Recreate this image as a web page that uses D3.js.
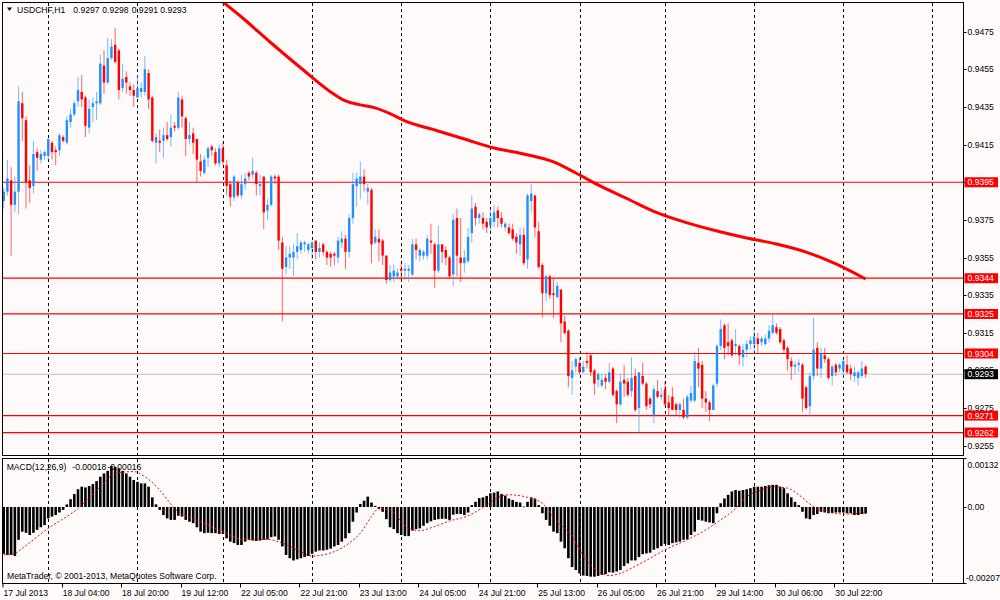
<!DOCTYPE html>
<html>
<head>
<meta charset="utf-8">
<script src="https://cdn.jsdelivr.net/npm/d3@7/dist/d3.min.js"></script>
<style>
  body { margin: 0; background: #fffafa; }
  svg { display: block; font-family: "Liberation Sans", Arial, sans-serif; font-size: 8.6px; }
</style>
</head>
<body>
<div class="chart"></div>
<script>
// USDCHF H1, bars from 17 Jul 2013 12:00 to 31 Jul 2013 06:00
const titleParts = ["USDCHF,H1", "0.9297", "0.9298", "0.9291", "0.9293"];
const macdParts = ["MACD(12,26,9)", "-0.00018", "-0.00016"];
const copyright = "MetaTrader, \u00a9 2001-2013, MetaQuotes Software Corp.";

const open = [
0.9385,0.9390,0.9396,0.9383,0.9390,0.9437,0.9428,0.9396,0.9393,0.9411,
0.9407,0.9409,0.9409,0.9416,0.9412,0.9412,0.9419,0.9416,0.9427,0.9431,
0.9438,0.9443,0.9440,0.9424,0.9435,0.9437,0.9437,0.9457,0.9448,0.9461,
0.9468,0.9465,0.9445,0.9451,0.9446,0.9444,0.9440,0.9443,0.9443,0.9453,
0.9440,0.9416,0.9417,0.9417,0.9420,0.9419,0.9425,0.9424,0.9439,0.9429,
0.9418,0.9421,0.9418,0.9406,0.9400,0.9408,0.9414,0.9411,0.9405,0.9413,
0.9404,0.9394,0.9387,0.9395,0.9388,0.9394,0.9400,0.9399,0.9400,0.9393,
0.9398,0.9380,0.9383,0.9398,0.9398,0.9363,0.9350,0.9355,0.9355,0.9358,
0.9359,0.9362,0.9359,0.9360,0.9364,0.9358,0.9362,0.9358,0.9357,0.9357,
0.9355,0.9363,0.9365,0.9358,0.9376,0.9393,0.9394,0.9398,0.9390,0.9391,
0.9363,0.9365,0.9364,0.9356,0.9343,0.9345,0.9345,0.9349,0.9348,0.9348,
0.9346,0.9362,0.9356,0.9356,0.9356,0.9364,0.9362,0.9348,0.9362,0.9359,
0.9355,0.9346,0.9376,0.9355,0.9352,0.9353,0.9368,0.9382,0.9376,0.9376,
0.9374,0.9372,0.9374,0.9380,0.9376,0.9371,0.9371,0.9370,0.9366,0.9362,
0.9367,0.9354,0.9385,0.9388,0.9369,0.9351,0.9336,0.9345,0.9336,0.9334,
0.9338,0.9321,0.9316,0.9291,0.9297,0.9299,0.9294,0.9300,0.9303,0.9295,
0.9290,0.9287,0.9291,0.9289,0.9296,0.9284,0.9277,0.9290,0.9289,0.9284,
0.9292,0.9275,0.9292,0.9288,0.9280,0.9271,0.9284,0.9281,0.9285,0.9278,
0.9281,0.9277,0.9274,0.9274,0.9270,0.9279,0.9279,0.9299,0.9298,0.9280,
0.9278,0.9274,0.9288,0.9308,0.9319,0.9310,0.9311,0.9308,0.9308,0.9302,
0.9306,0.9309,0.9309,0.9312,0.9310,0.9309,0.9312,0.9315,0.9318,0.9317,
0.9311,0.9307,0.9300,0.9297,0.9298,0.9298,0.9286,0.9276,0.9292,0.9307,
0.9296,0.9303,0.9301,0.9292,0.9298,0.9296,0.9295,0.9298,0.9296,0.9292,
0.9291,0.9292,0.9297];

const high = [
0.9392,0.9407,0.9403,0.9398,0.9446,0.9443,0.9430,0.9404,0.9417,0.9413,
0.9412,0.9412,0.9418,0.9417,0.9414,0.9421,0.9420,0.9430,0.9434,0.9438,
0.9451,0.9452,0.9441,0.9439,0.9440,0.9443,0.9463,0.9465,0.9472,0.9471,
0.9477,0.9466,0.9458,0.9454,0.9448,0.9447,0.9452,0.9448,0.9462,0.9455,
0.9441,0.9421,0.9423,0.9424,0.9427,0.9431,0.9427,0.9443,0.9441,0.9430,
0.9427,0.9424,0.9418,0.9410,0.9409,0.9414,0.9415,0.9413,0.9415,0.9416,
0.9407,0.9396,0.9399,0.9396,0.9399,0.9400,0.9401,0.9408,0.9401,0.9399,
0.9398,0.9386,0.9399,0.9399,0.9399,0.9366,0.9361,0.9361,0.9362,0.9368,
0.9364,0.9364,0.9363,0.9364,0.9364,0.9363,0.9363,0.9359,0.9358,0.9358,
0.9366,0.9369,0.9367,0.9378,0.9400,0.9400,0.9406,0.9402,0.9394,0.9392,
0.9370,0.9370,0.9365,0.9356,0.9351,0.9351,0.9349,0.9352,0.9352,0.9351,
0.9365,0.9365,0.9360,0.9359,0.9367,0.9373,0.9363,0.9372,0.9362,0.9361,
0.9356,0.9378,0.9381,0.9376,0.9359,0.9371,0.9388,0.9384,0.9379,0.9379,
0.9376,0.9381,0.9383,0.9382,0.9379,0.9374,0.9373,0.9373,0.9368,0.9371,
0.9371,0.9389,0.9394,0.9388,0.9374,0.9352,0.9346,0.9346,0.9344,0.9342,
0.9338,0.9324,0.9317,0.9300,0.9302,0.9302,0.9300,0.9305,0.9304,0.9296,
0.9294,0.9293,0.9293,0.9299,0.9297,0.9285,0.9293,0.9298,0.9291,0.9302,
0.9296,0.9294,0.9299,0.9289,0.9281,0.9287,0.9290,0.9286,0.9289,0.9282,
0.9286,0.9278,0.9278,0.9280,0.9282,0.9287,0.9305,0.9307,0.9300,0.9284,
0.9279,0.9288,0.9309,0.9322,0.9320,0.9320,0.9312,0.9317,0.9309,0.9309,
0.9311,0.9313,0.9318,0.9315,0.9313,0.9314,0.9319,0.9325,0.9320,0.9318,
0.9312,0.9308,0.9302,0.9300,0.9301,0.9299,0.9287,0.9294,0.9323,0.9310,
0.9307,0.9307,0.9302,0.9298,0.9299,0.9299,0.9301,0.9303,0.9298,0.9297,
0.9295,0.9300,0.9298];

const low = [
0.9381,0.9388,0.9356,0.9379,0.9378,0.9417,0.9381,0.9384,0.9389,0.9401,
0.9405,0.9407,0.9407,0.9407,0.9404,0.9409,0.9416,0.9415,0.9424,0.9430,
0.9435,0.9435,0.9419,0.9421,0.9427,0.9428,0.9436,0.9442,0.9447,0.9460,
0.9458,0.9439,0.9443,0.9442,0.9441,0.9435,0.9440,0.9440,0.9441,0.9434,
0.9416,0.9405,0.9411,0.9408,0.9417,0.9414,0.9422,0.9423,0.9424,0.9409,
0.9415,0.9410,0.9395,0.9398,0.9399,0.9403,0.9409,0.9404,0.9403,0.9404,
0.9388,0.9382,0.9385,0.9387,0.9386,0.9391,0.9396,0.9397,0.9388,0.9388,
0.9370,0.9375,0.9382,0.9394,0.9359,0.9321,0.9346,0.9349,0.9345,0.9354,
0.9357,0.9358,0.9357,0.9354,0.9354,0.9355,0.9356,0.9351,0.9350,0.9351,
0.9352,0.9360,0.9349,0.9355,0.9373,0.9382,0.9386,0.9390,0.9383,0.9352,
0.9362,0.9353,0.9351,0.9341,0.9342,0.9342,0.9344,0.9343,0.9343,0.9342,
0.9345,0.9354,0.9353,0.9354,0.9354,0.9357,0.9339,0.9347,0.9352,0.9351,
0.9344,0.9340,0.9345,0.9342,0.9347,0.9352,0.9363,0.9372,0.9373,0.9370,
0.9368,0.9369,0.9371,0.9371,0.9371,0.9369,0.9367,0.9364,0.9357,0.9356,
0.9351,0.9349,0.9379,0.9366,0.9349,0.9323,0.9332,0.9333,0.9323,0.9333,
0.9310,0.9314,0.9286,0.9282,0.9294,0.9293,0.9294,0.9296,0.9292,0.9282,
0.9286,0.9286,0.9285,0.9288,0.9281,0.9267,0.9276,0.9281,0.9281,0.9281,
0.9273,0.9262,0.9287,0.9274,0.9275,0.9267,0.9280,0.9279,0.9276,0.9271,
0.9274,0.9271,0.9270,0.9269,0.9269,0.9278,0.9278,0.9286,0.9275,0.9273,
0.9268,0.9274,0.9286,0.9306,0.9301,0.9303,0.9302,0.9303,0.9298,0.9297,
0.9302,0.9306,0.9304,0.9304,0.9308,0.9308,0.9310,0.9314,0.9314,0.9309,
0.9304,0.9295,0.9290,0.9293,0.9294,0.9273,0.9274,0.9271,0.9290,0.9292,
0.9291,0.9299,0.9290,0.9287,0.9292,0.9294,0.9291,0.9293,0.9290,0.9289,
0.9287,0.9291,0.9291];

const close = [
0.9390,0.9397,0.9383,0.9390,0.9438,0.9429,0.9395,0.9392,0.9410,0.9408,
0.9410,0.9411,0.9418,0.9411,0.9411,0.9420,0.9417,0.9428,0.9431,0.9437,
0.9444,0.9439,0.9425,0.9434,0.9437,0.9438,0.9458,0.9448,0.9461,0.9467,
0.9459,0.9444,0.9450,0.9448,0.9444,0.9441,0.9445,0.9445,0.9455,0.9439,
0.9417,0.9419,0.9416,0.9420,0.9418,0.9424,0.9424,0.9440,0.9430,0.9418,
0.9420,0.9416,0.9407,0.9401,0.9407,0.9413,0.9412,0.9405,0.9413,0.9406,
0.9393,0.9387,0.9398,0.9388,0.9394,0.9397,0.9398,0.9401,0.9394,0.9394,
0.9379,0.9383,0.9398,0.9397,0.9364,0.9349,0.9355,0.9357,0.9358,0.9361,
0.9363,0.9363,0.9362,0.9363,0.9358,0.9360,0.9358,0.9355,0.9355,0.9356,
0.9364,0.9365,0.9358,0.9376,0.9394,0.9397,0.9398,0.9394,0.9392,0.9362,
0.9366,0.9363,0.9356,0.9343,0.9347,0.9348,0.9347,0.9348,0.9349,0.9349,
0.9362,0.9359,0.9359,0.9358,0.9365,0.9363,0.9348,0.9362,0.9358,0.9355,
0.9345,0.9375,0.9356,0.9352,0.9355,0.9366,0.9381,0.9376,0.9378,0.9373,
0.9371,0.9376,0.9379,0.9376,0.9373,0.9373,0.9368,0.9365,0.9363,0.9367,
0.9352,0.9388,0.9389,0.9371,0.9350,0.9336,0.9345,0.9335,0.9335,0.9340,
0.9320,0.9315,0.9292,0.9295,0.9301,0.9294,0.9297,0.9299,0.9294,0.9288,
0.9293,0.9290,0.9289,0.9294,0.9282,0.9277,0.9289,0.9288,0.9282,0.9291,
0.9274,0.9294,0.9288,0.9276,0.9277,0.9285,0.9281,0.9282,0.9277,0.9275,
0.9274,0.9274,0.9277,0.9270,0.9281,0.9283,0.9300,0.9296,0.9280,0.9278,
0.9274,0.9287,0.9308,0.9317,0.9307,0.9308,0.9303,0.9309,0.9303,0.9306,
0.9309,0.9311,0.9313,0.9309,0.9312,0.9312,0.9316,0.9319,0.9315,0.9310,
0.9306,0.9301,0.9297,0.9298,0.9299,0.9280,0.9275,0.9292,0.9306,0.9296,
0.9304,0.9301,0.9291,0.9297,0.9294,0.9298,0.9300,0.9294,0.9293,0.9294,
0.9294,0.9296,0.9293];

// moving average (thick red line), read at some bars
const maBar = [58,64,72,80,88,92,96,100,104,108,116,124,132,140,148,154,160,168,176,184,192,200,208,216,224,232];
const maVal = [0.94924,0.94828,0.94690,0.94557,0.94430,0.94382,0.94361,0.94345,0.94314,0.94276,0.94228,0.94180,0.94132,0.94100,0.94058,0.93999,0.93936,0.93861,0.93787,0.93734,0.93691,0.93654,0.93622,0.93579,0.93516,0.93436];

// MACD main (histogram), one per bar
const macd = [
-0.00127,-0.00130,-0.00130,-0.00133,-0.00089,-0.00067,-0.00070,-0.00076,-0.00070,-0.00062,
-0.00055,-0.00049,-0.00031,-0.00026,-0.00022,-0.00015,-0.00008,0.00007,0.00021,0.00035,
0.00048,0.00055,0.00053,0.00057,0.00062,0.00070,0.00082,0.00091,0.00098,0.00111,
0.00109,0.00105,0.00098,0.00091,0.00082,0.00073,0.00068,0.00064,0.00064,0.00055,
0.00026,0.00007,-0.00008,-0.00022,-0.00031,-0.00035,-0.00035,-0.00024,-0.00026,-0.00035,
-0.00040,-0.00044,-0.00055,-0.00067,-0.00071,-0.00070,-0.00071,-0.00071,-0.00073,-0.00073,
-0.00085,-0.00094,-0.00098,-0.00103,-0.00103,-0.00094,-0.00089,-0.00091,-0.00092,-0.00091,
-0.00089,-0.00088,-0.00082,-0.00080,-0.00089,-0.00107,-0.00130,-0.00139,-0.00145,-0.00142,
-0.00139,-0.00136,-0.00133,-0.00127,-0.00121,-0.00118,-0.00118,-0.00116,-0.00113,-0.00107,
-0.00103,-0.00094,-0.00085,-0.00071,-0.00040,-0.00015,0.00008,0.00017,0.00028,0.00012,
0.00003,-0.00006,-0.00013,-0.00033,-0.00055,-0.00060,-0.00071,-0.00076,-0.00079,-0.00079,
-0.00064,-0.00060,-0.00058,-0.00051,-0.00044,-0.00039,-0.00035,-0.00033,-0.00032,-0.00032,
-0.00035,-0.00021,-0.00019,-0.00019,-0.00022,-0.00015,0.00005,0.00014,0.00024,0.00026,
0.00030,0.00037,0.00039,0.00042,0.00035,0.00031,0.00023,0.00019,0.00014,0.00012,
0.00001,0.00014,0.00026,0.00023,0.00005,-0.00017,-0.00035,-0.00051,-0.00067,-0.00071,
-0.00094,-0.00112,-0.00139,-0.00163,-0.00171,-0.00180,-0.00186,-0.00187,-0.00189,-0.00189,
-0.00187,-0.00184,-0.00182,-0.00177,-0.00178,-0.00175,-0.00171,-0.00160,-0.00153,-0.00145,
-0.00145,-0.00136,-0.00128,-0.00126,-0.00124,-0.00116,-0.00112,-0.00106,-0.00100,-0.00103,
-0.00098,-0.00096,-0.00094,-0.00089,-0.00088,-0.00076,-0.00067,-0.00035,-0.00037,-0.00040,
-0.00042,-0.00044,-0.00017,0.00010,0.00023,0.00033,0.00042,0.00046,0.00044,0.00046,
0.00048,0.00051,0.00055,0.00055,0.00055,0.00057,0.00059,0.00060,0.00060,0.00055,
0.00051,0.00037,0.00026,0.00014,0.00005,-0.00013,-0.00031,-0.00033,-0.00022,-0.00019,
-0.00013,-0.00015,-0.00017,-0.00017,-0.00015,-0.00015,-0.00015,-0.00017,-0.00017,-0.00022,
-0.00022,-0.00019,-0.00018];

// MACD signal (red dotted), read at some bars
const sigBar = [0,3,5,12,20,26,30,35,38,42,46,53,59,65,71,75,80,83,89,93,96,99,101,104,109,112,116,120,125,130,133,136,141,145,149,153,155,158,161,163,166,169,174,178,184,189,193,197,200,204,207,211,214,218,222,226,232];
const sigVal = [-0.00130,-0.00126,-0.00112,-0.00058,-0.00004,0.00055,0.00091,0.00096,0.00082,0.00046,-0.00004,-0.00040,-0.00067,-0.00089,-0.00088,-0.00098,-0.00121,-0.00133,-0.00121,-0.00098,-0.00071,-0.00026,-0.00004,-0.00010,-0.00058,-0.00064,-0.00053,-0.00038,-0.00024,0.00005,0.00026,0.00033,0.00026,0.00010,-0.00040,-0.00080,-0.00116,-0.00157,-0.00180,-0.00186,-0.00180,-0.00166,-0.00139,-0.00116,-0.00089,-0.00062,-0.00035,-0.00004,0.00028,0.00046,0.00055,0.00051,0.00033,0.00001,-0.00013,-0.00019,-0.00016];

// horizontal levels
const levels = [0.9395, 0.9344, 0.9325, 0.9304, 0.9271, 0.9262];
const bid = 0.9293;
const priceTicks = [0.9475, 0.9455, 0.9435, 0.9415, 0.9395, 0.9375, 0.9355, 0.9335, 0.9315, 0.9295, 0.9275, 0.9255];
const macdTicks = [0.00132, 0, -0.00207];
const macdTickLabels = ["0.00132", "0.00", "-0.00207"];

// day separators and time axis
const dayStarts = [12, 36, 59, 83, 107, 131, 155, 178, 202, 226, 250];
const timeBars = [0, 16, 32, 48, 64, 80, 96, 112, 128, 144, 160, 176, 192, 208, 224];
const timeLabels = ["17 Jul 2013", "18 Jul 04:00", "18 Jul 20:00", "19 Jul 12:00", "22 Jul 05:00", "22 Jul 21:00",
  "23 Jul 13:00", "24 Jul 05:00", "24 Jul 21:00", "25 Jul 13:00", "26 Jul 05:00", "26 Jul 21:00",
  "29 Jul 14:00", "30 Jul 06:00", "30 Jul 22:00"];

const W = 1000, H = 600;
const L = 2.5, R = 963.5;
const mainTop = 2.5, mainBot = 455.5, subTop = 458.5, subBot = 583.5;

const svg = d3.select('.chart').append('svg')
  .attr('width', W).attr('height', H);

svg.append('rect').attr('width', W).attr('height', H).attr('fill', '#fffafa');

const x = d3.scaleLinear().domain([0, 258.3]).range([3.7, 963.3]);
const y = d3.scaleLinear().domain([0.9255, 0.9475]).range([445.7, 31.7]);
const ym = d3.scaleLinear().domain([-0.00207, 0.00132]).range([583.3, 458.3]);

const defs = svg.append('defs');
defs.append('clipPath').attr('id', 'clipMain').append('rect')
  .attr('x', L).attr('y', mainTop).attr('width', R - L).attr('height', mainBot - mainTop);
defs.append('clipPath').attr('id', 'clipSub').append('rect')
  .attr('x', L).attr('y', subTop).attr('width', R - L).attr('height', subBot - subTop);

// period separators
const sep = svg.append('g');
[[mainTop, mainBot], [subTop, subBot]].forEach(p => {
  sep.selectAll(null)
    .data(dayStarts)
    .enter()
    .append('line')
    .attr('x1', d => Math.round(x(d)) + 0.5)
    .attr('x2', d => Math.round(x(d)) + 0.5)
    .attr('y1', p[0]).attr('y2', p[1])
    .attr('stroke', '#000')
    .attr('stroke-dasharray', '3,3')
    .attr('shape-rendering', 'crispEdges');
});

// main panel
const gm = svg.append('g').attr('clip-path', 'url(#clipMain)');

gm.append('line')
  .attr('x1', L).attr('x2', R)
  .attr('y1', y(bid)).attr('y2', y(bid))
  .attr('stroke', '#c0c0c0');

gm.selectAll('line.level')
  .data(levels)
  .enter()
  .append('line')
  .attr('class', 'level')
  .attr('x1', L).attr('x2', R)
  .attr('y1', d => y(d)).attr('y2', d => y(d))
  .attr('stroke', '#ff0000')
  .attr('stroke-width', 1.2);

const idx = d3.range(close.length);
const up = i => close[i] >= open[i];

gm.selectAll('line.wick')
  .data(idx)
  .enter()
  .append('line')
  .attr('class', 'wick')
  .attr('x1', i => x(i)).attr('x2', i => x(i))
  .attr('y1', i => y(high[i])).attr('y2', i => y(low[i]))
  .attr('stroke', i => up(i) ? '#1e90ff' : '#ff0000')
  .attr('stroke-opacity', 0.6)
  .attr('stroke-width', 1);

gm.selectAll('rect.body')
  .data(idx)
  .enter()
  .append('rect')
  .attr('class', 'body')
  .attr('x', i => x(i) - 1.2)
  .attr('width', 2.4)
  .attr('y', i => y(Math.max(open[i], close[i])))
  .attr('height', i => Math.max(1, Math.abs(y(open[i]) - y(close[i]))))
  .attr('fill', i => up(i) ? '#1e90ff' : '#ff0000');

const maLine = d3.line()
  .x((d, k) => x(maBar[k]))
  .y(d => y(d))
  .curve(d3.curveMonotoneX);

gm.append('path')
  .attr('d', maLine(maVal))
  .attr('fill', 'none')
  .attr('stroke', '#ff0000')
  .attr('stroke-width', 3)
  .attr('stroke-linejoin', 'round');

// MACD panel
const gs = svg.append('g').attr('clip-path', 'url(#clipSub)');

gs.selectAll('rect.hist')
  .data(macd)
  .enter()
  .append('rect')
  .attr('class', 'hist')
  .attr('x', (d, i) => x(i) - 1.3)
  .attr('width', 2.6)
  .attr('y', d => Math.min(ym(0), ym(d)))
  .attr('height', d => Math.max(0.6, Math.abs(ym(d) - ym(0))))
  .attr('fill', '#000');

const sigLine = d3.line()
  .x((d, k) => x(sigBar[k]))
  .y(d => ym(d))
  .curve(d3.curveMonotoneX);

gs.append('path')
  .attr('d', sigLine(sigVal))
  .attr('fill', 'none')
  .attr('stroke', '#ff0000')
  .attr('stroke-width', 1)
  .attr('stroke-dasharray', '2,2');

// frames
[[mainTop, mainBot], [subTop, subBot]].forEach(p => {
  svg.append('rect')
    .attr('x', L).attr('y', p[0])
    .attr('width', R - L).attr('height', p[1] - p[0])
    .attr('fill', 'none')
    .attr('stroke', '#000')
    .attr('shape-rendering', 'crispEdges');
});

// right price axis
const ax = svg.append('g');
ax.selectAll('line.pt')
  .data(priceTicks)
  .enter()
  .append('line')
  .attr('x1', R).attr('x2', R + 3)
  .attr('y1', d => Math.round(y(d)) + 0.5).attr('y2', d => Math.round(y(d)) + 0.5)
  .attr('stroke', '#000');
ax.selectAll('text.pt')
  .data(priceTicks)
  .enter()
  .append('text')
  .attr('x', 967.5)
  .attr('y', d => y(d))
  .attr('dy', '0.35em')
  .attr('fill', '#000')
  .text(d => d.toFixed(4));

// level labels
const tags = levels.map(v => ({ v: v, bg: '#ff0000' })).concat([{ v: bid, bg: '#000' }]);
ax.selectAll('rect.tag')
  .data(tags)
  .enter()
  .append('rect')
  .attr('x', 964.5).attr('width', 33.5)
  .attr('y', d => y(d.v) - 5).attr('height', 10)
  .attr('fill', d => d.bg);
ax.selectAll('text.tag')
  .data(tags)
  .enter()
  .append('text')
  .attr('x', 967.5)
  .attr('y', d => y(d.v))
  .attr('dy', '0.35em')
  .attr('fill', '#fff')
  .text(d => d.v.toFixed(4));

// MACD axis
ax.selectAll('line.mt')
  .data(macdTicks)
  .enter()
  .append('line')
  .attr('x1', R).attr('x2', R + 3)
  .attr('y1', d => Math.round(ym(d)) + 0.5).attr('y2', d => Math.round(ym(d)) + 0.5)
  .attr('stroke', '#000');
ax.selectAll('text.mt')
  .data(macdTicks)
  .enter()
  .append('text')
  .attr('x', (d, i) => i === 2 ? 966 : 967.5)
  .attr('y', (d, i) => i === 0 ? 465 : (i === 2 ? 577.5 : ym(d)))
  .attr('dy', '0.35em')
  .attr('fill', '#000')
  .text((d, i) => macdTickLabels[i]);

// time axis
ax.selectAll('line.tt')
  .data(timeBars)
  .enter()
  .append('line')
  .attr('x1', (d, i) => i === 0 ? 3 : Math.round(x(d) - 1.5) + 0.5)
  .attr('x2', (d, i) => i === 0 ? 3 : Math.round(x(d) - 1.5) + 0.5)
  .attr('y1', subBot).attr('y2', subBot + 4)
  .attr('stroke', '#000');
ax.selectAll('text.tt')
  .data(timeBars)
  .enter()
  .append('text')
  .attr('x', (d, i) => i === 0 ? 3.5 : x(d) - 0.5)
  .attr('y', 592.5)
  .attr('dy', '0.35em')
  .attr('fill', '#000')
  .text((d, i) => timeLabels[i]);

// titles
svg.append('path')
  .attr('d', 'M7,7.5 L12,7.5 L9.5,11 Z')
  .attr('fill', '#000');
const titleX = [17, 73.3, 102.3, 131.7, 160.3];
svg.selectAll('text.title')
  .data(titleParts)
  .enter()
  .append('text')
  .attr('x', (d, i) => titleX[i])
  .attr('y', 9.7).attr('dy', '0.35em')
  .attr('fill', '#000')
  .text(d => d);
const macdX = [6.7, 72.3, 107.3];
svg.selectAll('text.mtitle')
  .data(macdParts)
  .enter()
  .append('text')
  .attr('x', (d, i) => macdX[i])
  .attr('y', 466.7).attr('dy', '0.35em')
  .attr('fill', '#000')
  .text(d => d);
svg.append('text')
  .attr('x', 7).attr('y', 576.3).attr('dy', '0.35em')
  .attr('fill', '#000')
  .text(copyright);
</script>
</body>
</html>
